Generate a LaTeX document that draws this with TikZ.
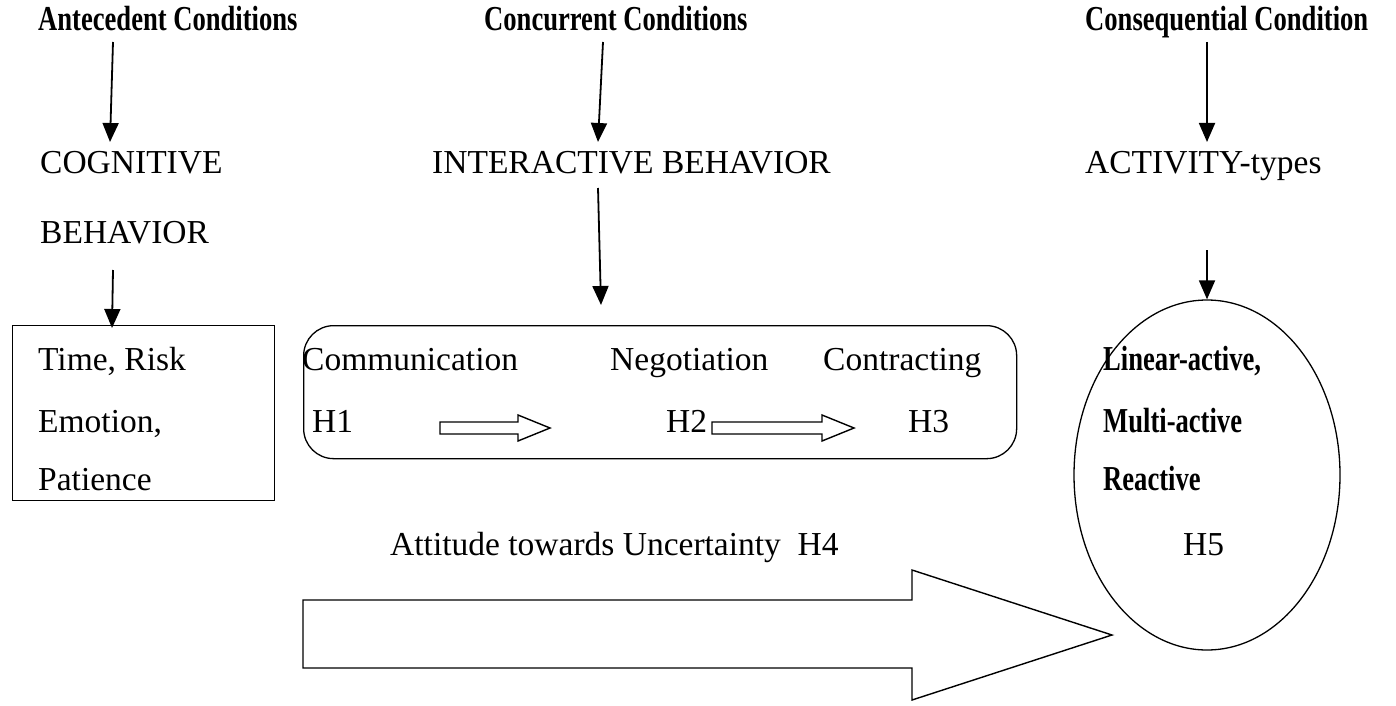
\documentclass[tikz,border=0pt]{standalone}
\usepackage{fontspec}
\setmainfont{Liberation Serif}
\newfontfamily\bcond[FakeStretch=0.76]{Liberation Serif}
\usetikzlibrary{arrows.meta,shapes.geometric}
\begin{document}
\begin{tikzpicture}[x=1pt,y=-1pt,
  txt/.style={inner sep=0pt, anchor=base west, font=\fontsize{33.5}{40}\selectfont},
  btxt/.style={inner sep=0pt, anchor=base west, font=\fontsize{35}{42}\selectfont\bcond\bfseries},
  conn/.style={line width=1.8pt, -{Triangle[width=16pt,length=19pt]}},
  hollow/.style={draw, line width=1.4pt, fill=white, line join=miter}
]
\useasboundingbox (0,0) rectangle (1396,706);
% titles
\node[btxt] (t1) at (38,31) {Antecedent Conditions};
\node[btxt] (t2) at (484,31) {Concurrent Conditions};
\node[btxt] (t3) at (1085,31) {Consequential Condition};
% second row
\node[txt] (cog) at (40,173) {COGNITIVE};
\node[txt] (beh) at (40,243) {BEHAVIOR};
\node[txt] (inter) at (432,173) {INTERACTIVE BEHAVIOR};
\node[txt] (act) at (1085,173) {ACTIVITY-types};
% boxes
\node[draw, line width=1.3pt, anchor=north west, inner sep=0pt, minimum width=262pt, minimum height=175pt] (box) at (12,325) {};
\node[draw, line width=1.3pt, rounded corners=30pt, anchor=north west, inner sep=0pt, minimum width=713pt, minimum height=133pt] (rbox) at (303,325) {};
\node[draw, line width=1.3pt, ellipse, inner sep=0pt, minimum width=266pt, minimum height=350pt] (ell) at (1207,475) {};
% connectors
\coordinate (a1s) at (113,42);  \coordinate (a1e) at (110,142);
\coordinate (a2s) at (603,42);  \coordinate (a2e) at (598,142);
\coordinate (a3s) at (1207,42); \coordinate (a3e) at (1207,142);
\coordinate (a4s) at (113,270); \coordinate (a4e) at (112,328);
\coordinate (a5s) at (598,188); \coordinate (a5e) at (601,305);
\coordinate (a6s) at (1207,250);
\draw[conn] (a1s) -- (a1e);
\draw[conn] (a2s) -- (a2e);
\draw[conn] (a3s) -- (a3e);
\draw[conn] (a4s) -- (a4e);
\draw[conn] (a5s) -- (a5e);
\draw[conn] (a6s) -- (ell.north);
% box texts
\node[txt] (b1) at (38,370) {Time, Risk};
\node[txt] (b2) at (38,432) {Emotion,};
\node[txt] (b3) at (38,490) {Patience};
\node[txt] (comm) at (302,370) {Communication};
\node[txt] (nego) at (610,370) {Negotiation};
\node[txt] (cont) at (823,370) {Contracting};
\node[txt] (h1) at (312,432) {H1};
\node[txt] (h2) at (666,432) {H2};
\node[txt] (h3) at (908,432) {H3};
% hollow arrows
\draw[hollow] (440,422) -- (518,422) -- (518,415) -- (550,428) -- (518,441) -- (518,434) -- (440,434) -- cycle;
\draw[hollow] (712,422) -- (822,422) -- (822,415) -- (854,428) -- (822,441) -- (822,434) -- (712,434) -- cycle;
% ellipse texts
\node[btxt] (e1) at (1103,370) {Linear-active,};
\node[btxt] (e2) at (1103,432) {Multi-active};
\node[btxt] (e3) at (1103,490) {Reactive};
\node[txt] (h5) at (1183,555) {H5};
% bottom
\node[txt] (att) at (390,555) {Attitude towards Uncertainty\ \ H4};
\draw[hollow] (303,600) -- (912,600) -- (912,570) -- (1112,635) -- (912,700) -- (912,668) -- (303,668) -- cycle;
\end{tikzpicture}
\end{document}
